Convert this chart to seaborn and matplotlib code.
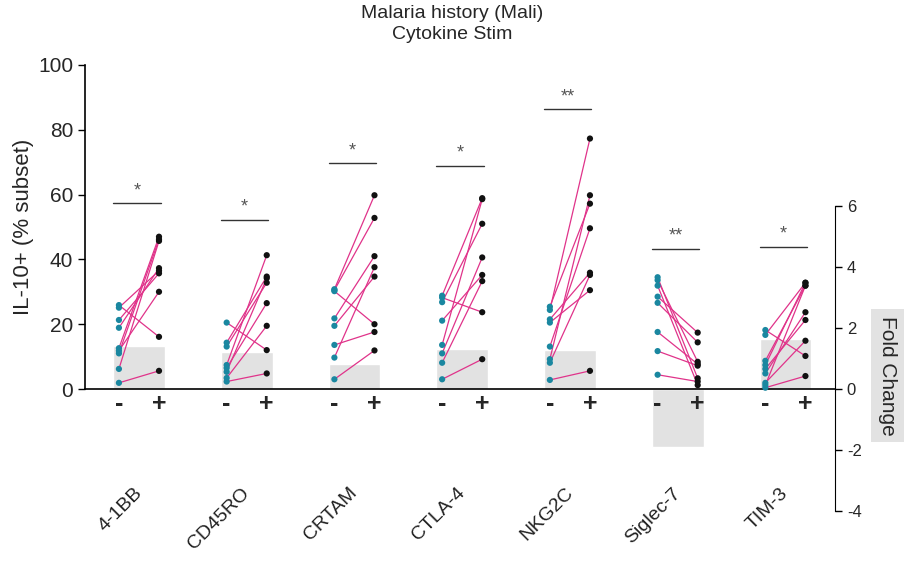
"""
Paired IL-10+ frequencies (- / + stim) per NK subset marker,
with fold change bars on a second axis.
"""

import pandas as pd
import matplotlib
matplotlib.use('Agg')
import matplotlib.pyplot as plt
import seaborn as sns

markers = ['4-1BB', 'CD45RO', 'CRTAM', 'CTLA-4', 'NKG2C', 'Siglec-7', 'TIM-3']

# paired values: unstim (-) and stim (+), same order within a marker
minus_vals = [
    [25.9, 25.1, 21.3, 18.9, 12.6, 11.8, 11.0, 6.2, 1.9],
    [20.5, 14.3, 13.1, 7.4, 6.5, 5.3, 3.4, 2.3],
    [30.8, 30.5, 30.2, 21.8, 19.5, 13.6, 9.7, 3.0],
    [28.8, 28.2, 26.8, 21.1, 13.6, 11.0, 8.1, 3.0],
    [25.4, 24.4, 21.5, 20.5, 13.1, 9.2, 8.1, 2.8],
    [34.5, 33.6, 31.9, 28.5, 26.6, 17.6, 11.7, 4.4],
    [18.2, 16.7, 8.7, 7.4, 6.2, 4.8, 1.9, 1.2, 0.4],
]
plus_vals = [
    [16.1, 36.5, 35.7, 37.3, 47.0, 30.0, 46.2, 45.7, 5.6],
    [12.0, 34.7, 32.8, 41.3, 26.5, 34.2, 19.5, 4.8],
    [59.8, 52.8, 20.0, 41.0, 34.7, 17.6, 37.6, 11.9],
    [58.9, 23.7, 51.0, 35.2, 58.6, 40.6, 33.3, 9.2],
    [57.2, 77.3, 35.9, 30.5, 49.6, 59.8, 35.2, 5.6],
    [3.3, 8.4, 1.2, 17.4, 14.4, 7.7, 7.2, 2.3],
    [10.2, 32.8, 31.9, 32.8, 21.3, 23.7, 14.9, 31.9, 4.0],
]
fold_change = [1.41, 1.22, 0.82, 1.32, 1.28, -1.9, 1.64]
sig_labels = ['*', '*', '*', '*', '**', '**', '*']
sig_heights = [57.4, 52.2, 69.7, 68.9, 86.3, 43.3, 43.9]

# long table
rows = []
for i, m in enumerate(markers):
    for j, (a, b) in enumerate(zip(minus_vals[i], plus_vals[i])):
        rows.append({'marker': m, 'pair': f'{m}_{j}', 'cond': '-', 'x': i - 0.186, 'value': a})
        rows.append({'marker': m, 'pair': f'{m}_{j}', 'cond': '+', 'x': i + 0.186, 'value': b})
df = pd.DataFrame(rows)
fc_df = pd.DataFrame({'x': range(len(markers)), 'fold': fold_change})

sns.set_style('white')
plt.rcParams['font.family'] = ['Liberation Sans', 'DejaVu Sans']
plt.rcParams['axes.unicode_minus'] = False

fig = plt.figure(figsize=(9.05, 5.84), dpi=100)
ax = fig.add_axes([0.0939, 0.1233, 0.8287, 0.7654])
ax2 = ax.twinx()

# fold change bars (behind)
sns.barplot(data=fc_df, x='x', y='fold', native_scale=True, width=0.48,
            color='#e2e2e2', saturation=1, ax=ax2)
ax2.set_ylim(-4.03, 10.62)
ax2.set_yticks([-4, -2, 0, 2, 4, 6])
ax2.spines['right'].set_bounds(-4, 6)
for s in ['top', 'left', 'bottom']:
    ax2.spines[s].set_visible(False)
ax2.spines['right'].set_color('black')
ax2.tick_params(axis='y', labelsize=12, length=5, width=1, color='black', direction='out')
ax2.set_ylabel('')
ax2.set_xlabel('')

ax.set_zorder(ax2.get_zorder() + 1)
ax.patch.set_visible(False)

# paired lines and points
sns.lineplot(data=df, x='x', y='value', units='pair', estimator=None,
             color='#e0338a', lw=0.9, ax=ax, legend=False)
sns.scatterplot(data=df, x='x', y='value', hue='cond',
                palette={'-': '#1a87a0', '+': '#111111'}, s=20,
                edgecolor='none', ax=ax, legend=False, zorder=3)

ax.set_ylim(-37.96, 100)
ax.set_xlim(-0.501, 6.46)
ax.spines['left'].set_bounds(0, 100)
ax.spines['bottom'].set_position(('data', 0))
ax.spines['top'].set_visible(False)
ax.spines['right'].set_visible(False)
for s in ['left', 'bottom']:
    ax.spines[s].set_color('black')
    ax.spines[s].set_linewidth(1.2)
ax.set_yticks([0, 20, 40, 60, 80, 100])
ax.tick_params(axis='y', labelsize=15, length=5, width=1, color='black', direction='out', left=True)

ticks = []
labels = []
for i in range(len(markers)):
    ticks += [i - 0.186, i + 0.186]
    labels += ['-', '+']
ax.set_xticks(ticks)
ax.set_xticklabels(labels, fontsize=18, fontweight='bold')
ax.tick_params(axis='x', length=0, pad=2)
ax.set_xlabel('')
ax.set_ylabel('IL-10+ (% subset)', fontsize=16)
ax.yaxis.set_label_coords(-0.068, 0.638)

# marker names
for i, m in enumerate(markers):
    ax.text(i + 0.06, -29.5, m, rotation=45, ha='right', va='top',
            fontsize=14, color='#222222')

# significance bars
for i, (lab, h) in enumerate(zip(sig_labels, sig_heights)):
    ax.plot([i - 0.24, i + 0.2], [h, h], color='#333333', lw=1)
    ax.text(i - 0.02, h + 1.2, lab, ha='center', va='bottom', fontsize=13, color='#555555')

fig.text(0.5, 0.992, 'Malaria history (Mali)\nCytokine Stim', ha='center', va='top',
         fontsize=14, linespacing=1.35)
fig.text(0.981, 0.357, 'Fold Change', rotation=270, ha='center', va='center', fontsize=15,
         bbox=dict(facecolor='#e2e2e2', edgecolor='none', pad=5))

plt.savefig('out.png', dpi=100)
plt.close()
